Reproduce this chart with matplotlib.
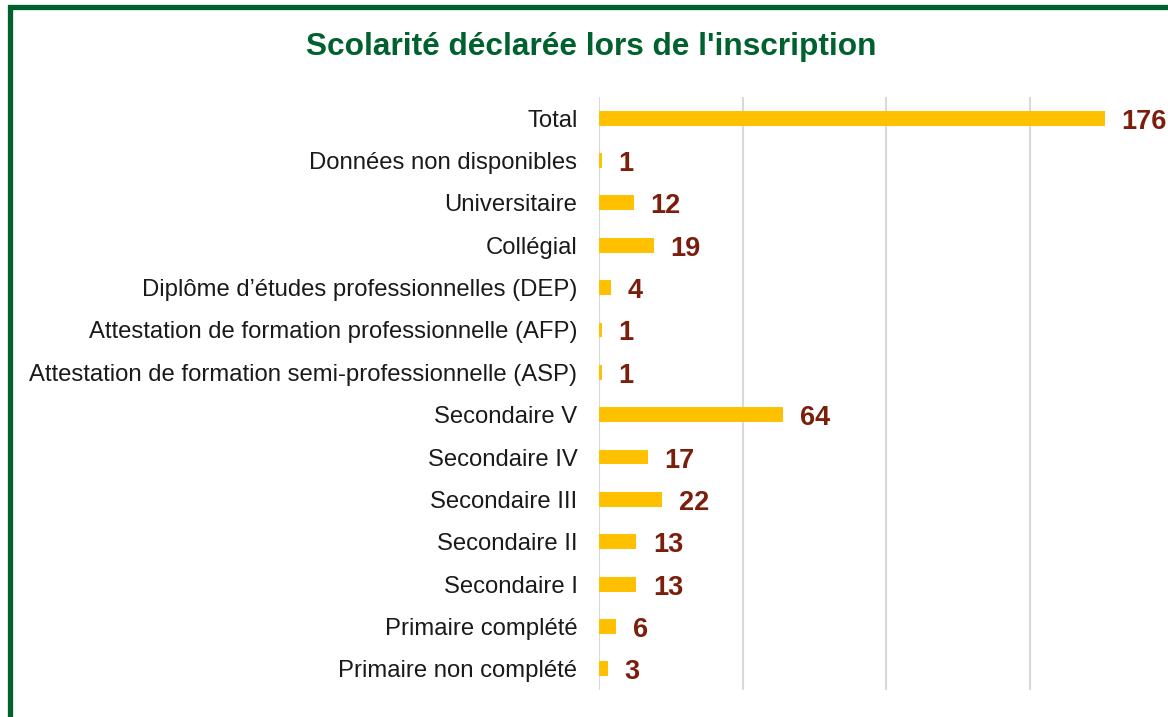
import matplotlib.pyplot as plt
from matplotlib.lines import Line2D

plt.rcParams['font.family'] = ['Liberation Sans', 'DejaVu Sans']

categories = [
    "Total",
    "Données non disponibles",
    "Universitaire",
    "Collégial",
    "Diplôme d’études professionnelles (DEP)",
    "Attestation de formation professionnelle (AFP)",
    "Attestation de formation semi-professionnelle (ASP)",
    "Secondaire V",
    "Secondaire IV",
    "Secondaire III",
    "Secondaire II",
    "Secondaire I",
    "Primaire complété",
    "Primaire non complété",
]
values = [176, 1, 12, 19, 4, 1, 1, 64, 17, 22, 13, 13, 6, 3]
grid_ticks = [0, 50, 100, 150, 200]

W, H = 1168, 717
fig = plt.figure(figsize=(W / 100, H / 100), dpi=100)

# plot area in pixels: x 599..1174 (0..200), y 97..690
x0, x1, y0, y1 = 599, 1174, 97, 690
ax = fig.add_axes([x0 / W, 1 - y1 / H, (x1 - x0) / W, (y1 - y0) / H])

pos = list(range(len(categories)))
ax.barh(pos, values, height=0.35, color="#FFC000", zorder=3)
for p, v in zip(pos, values):
    ax.annotate(str(v), (v, p), xytext=(12, -2.5), textcoords="offset points",
                ha="left", va="center", fontsize=19.5, fontweight="bold",
                color="#7B1F0C", zorder=4)

ax.set_ylim(len(categories) - 0.5, -0.5)
ax.set_xlim(0, 200)
ax.set_xticks(grid_ticks)
ax.xaxis.grid(True, color="#D9D9D9", linewidth=1.5, zorder=0)
ax.tick_params(axis="x", bottom=False, labelbottom=False)
ax.set_yticks(pos)
ax.set_yticklabels(categories, fontsize=17.2, color="#1a1a1a")
ax.tick_params(axis="y", left=False, pad=12)
for s in ax.spines.values():
    s.set_visible(False)

fig.text(591 / W, 1 - 47 / H, "Scolarité déclarée lors de l'inscription",
         ha="center", va="center", fontsize=22.8, fontweight="bold",
         color="#00612E")

# green frame (top and left edges visible)
fig.add_artist(Line2D([9.5 / W, 9.5 / W, 1.01], [-0.01, 1 - 6.5 / H, 1 - 6.5 / H],
                      transform=fig.transFigure, color="#00612E",
                      linewidth=3.8, solid_joinstyle="miter"))

fig.savefig("out.png", dpi=100)
